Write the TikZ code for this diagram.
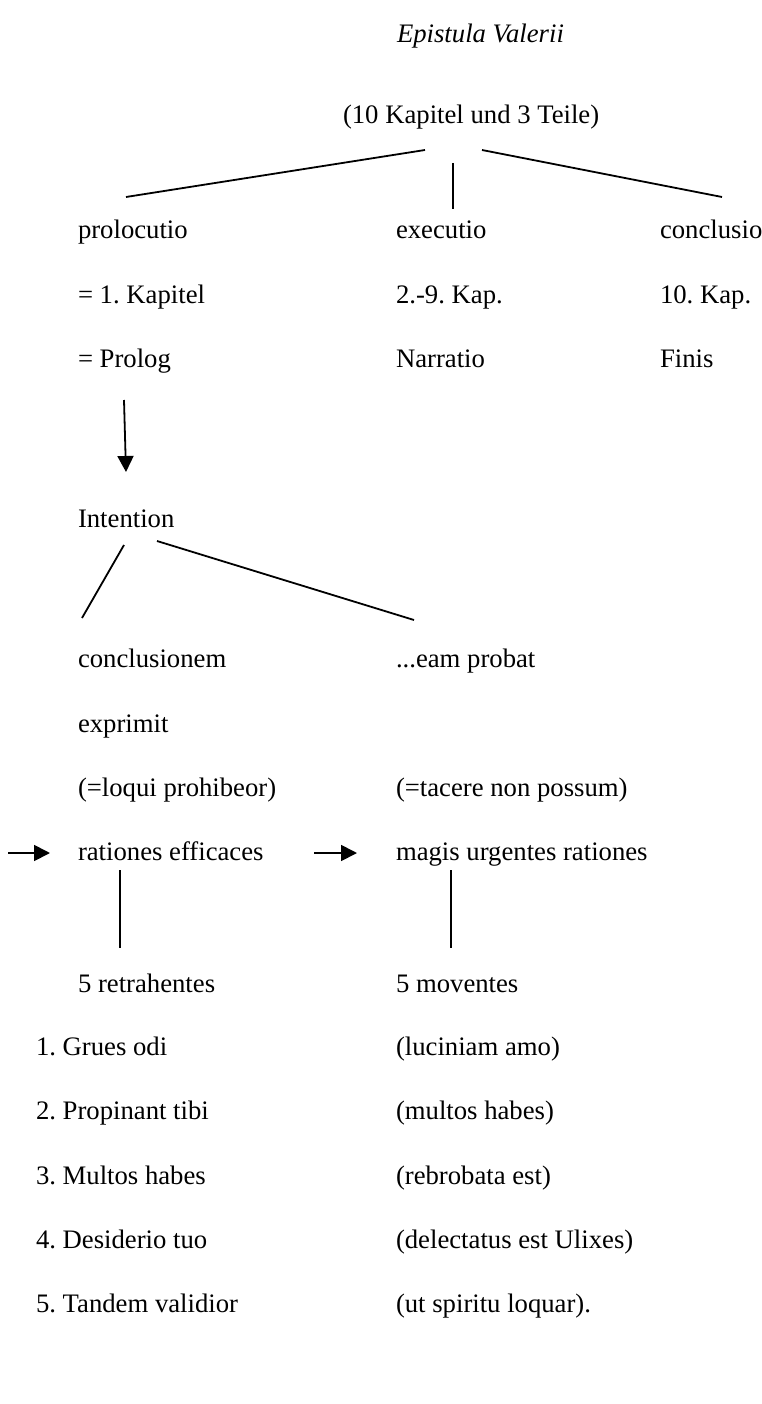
\documentclass[tikz,border=0pt]{standalone}
\usepackage{fontspec}
\setmainfont{Liberation Serif}
\usetikzlibrary{arrows.meta}
\frenchspacing
\tikzset{
  txt/.style={anchor=base west, inner sep=0pt, outer sep=0pt, font=\fontsize{26.7}{32}\selectfont},
  conn/.style={line width=1.8pt, black},
  arr/.style={line width=1.8pt, black, -{Triangle[length=16pt,width=16pt]}}
}
\begin{document}
\begin{tikzpicture}[x=1pt,y=-1pt]
\useasboundingbox (0,0) rectangle (762,1404);
% texts (baseline = centre + 7)
\node[txt] (epi) at (397,43) {\itshape Epistula Valerii};
\node[txt] (root) at (343,124) {(10 Kapitel und 3 Teile)};
\node[txt] (prol) at (78,239) {prolocutio};
\node[txt] (exec) at (396,239) {executio};
\node[txt] (concl) at (660,239) {conclusio};
\node[txt] (kap1) at (78,303) {= 1. Kapitel};
\node[txt] (kap2) at (396,303) {2.-9. Kap.};
\node[txt] (kap3) at (660,303) {10. Kap.};
\node[txt] (prolog) at (78,367) {= Prolog};
\node[txt] (narr) at (396,367) {Narratio};
\node[txt] (fin) at (660,367) {Finis};
\node[txt] (int) at (78,527) {Intention};
\node[txt] (cexp) at (78,667) {conclusionem};
\node[txt] (prob) at (396,667) {...eam probat};
\node[txt] (expr) at (78,732) {exprimit};
\node[txt] (loqui) at (78,796) {(=loqui prohibeor)};
\node[txt] (tac) at (396,796) {(=tacere non possum)};
\node[txt] (rat) at (78,860) {rationes efficaces};
\node[txt] (mag) at (396,860) {magis urgentes rationes};
\node[txt] (retr) at (78,992) {5 retrahentes};
\node[txt] (mov) at (396,992) {5 moventes};
\node[txt] (r1) at (36,1055) {1. Grues odi};
\node[txt] (m1) at (396,1055) {(luciniam amo)};
\node[txt] (r2) at (36,1119) {2. Propinant tibi};
\node[txt] (m2) at (396,1119) {(multos habes)};
\node[txt] (r3) at (36,1184) {3. Multos habes};
\node[txt] (m3) at (396,1184) {(rebrobata est)};
\node[txt] (r4) at (36,1248) {4. Desiderio tuo};
\node[txt] (m4) at (396,1248) {(delectatus est Ulixes)};
\node[txt] (r5) at (36,1312) {5. Tandem validior};
\node[txt] (m5) at (396,1312) {(ut spiritu loquar).};
% connector end points
\coordinate (rootL) at (425,150);
\coordinate (rootM) at (453,163);
\coordinate (rootR) at (482,150);
\coordinate (prolT) at (126,197);
\coordinate (execT) at (453,209);
\coordinate (conclT) at (722,197);
\coordinate (prologB) at (124,400);
\coordinate (intT) at (126,472);
\coordinate (intBL) at (124,545);
\coordinate (intBR) at (157,541);
\coordinate (cexpT) at (82,618);
\coordinate (probT) at (414,620);
\coordinate (ratIn) at (8,853);
\coordinate (ratL) at (50,853);
\coordinate (magIn) at (314,853);
\coordinate (magL) at (357,853);
\coordinate (ratB) at (120,870);
\coordinate (retrT) at (120,948);
\coordinate (magB) at (451,870);
\coordinate (movT) at (451,948);
% connectors
\draw[conn] (rootL) -- (prolT);
\draw[conn] (rootM) -- (execT);
\draw[conn] (rootR) -- (conclT);
\draw[arr] (prologB) -- (intT);
\draw[conn] (intBL) -- (cexpT);
\draw[conn] (intBR) -- (probT);
\draw[arr] (ratIn) -- (ratL);
\draw[arr] (magIn) -- (magL);
\draw[conn] (ratB) -- (retrT);
\draw[conn] (magB) -- (movT);
\end{tikzpicture}
\end{document}
